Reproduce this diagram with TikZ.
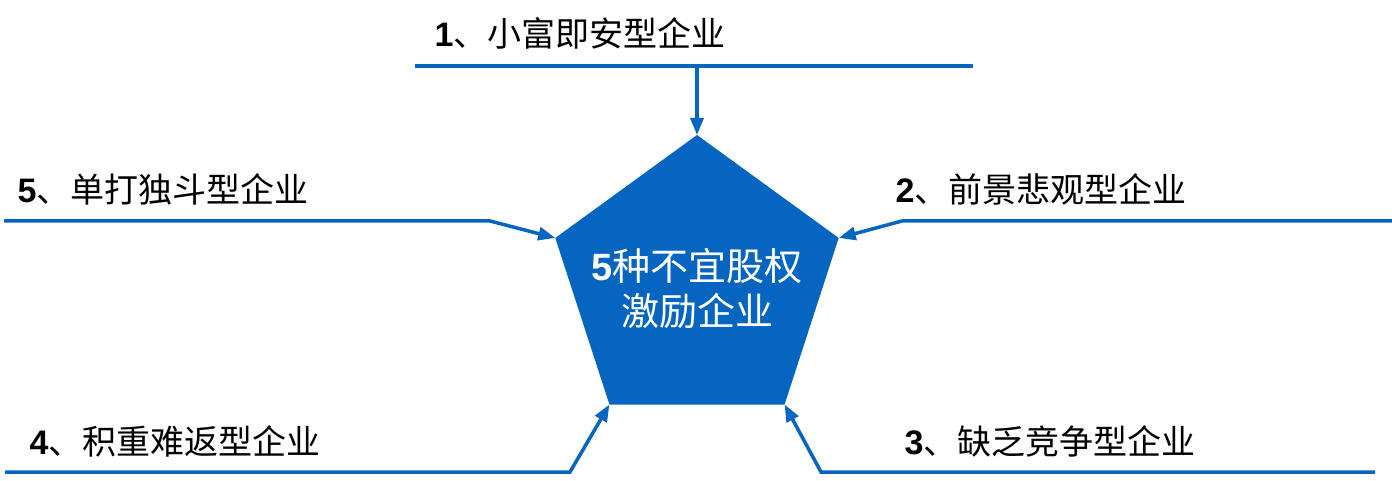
\documentclass[tikz,border=0pt]{standalone}
\usepackage{fontspec}
\setmainfont{Liberation Sans}
\newfontfamily\cjk{Noto Sans CJK SC}
\usetikzlibrary{shapes.geometric,arrows.meta}
\definecolor{pentablue}{RGB}{6,101,192}
\begin{document}
\begin{tikzpicture}[x=1pt,y=-1pt,
    rule/.style={line width=3.5pt,pentablue},
    feed/.style={rule,-{Triangle[length=17pt,width=13pt]}},
    kind/.style={font=\fontsize{34}{40}\selectfont,inner sep=0pt}]
    \useasboundingbox (0,0) rectangle (1392,481);
    % centre pentagon
    \node[regular polygon,regular polygon sides=5,minimum size=298pt,inner sep=0pt,outer sep=0pt,fill=pentablue] (penta) at (697,284) {};
    \node[white,align=center,font=\fontsize{38}{45}\selectfont] (core) at (697,289) {\textbf{5}{\cjk 种不宜股权}\\{\cjk 激励企业}};
    % labels
    \node[kind] (t1) at (580,33) {\textbf{1}{\cjk 、小富即安型企业}};
    \node[kind] (t2) at (1041,189) {\textbf{2}{\cjk 、前景悲观型企业}};
    \node[kind] (t3) at (1050,441) {\textbf{3}{\cjk 、缺乏竞争型企业}};
    \node[kind] (t4) at (175,441) {\textbf{4}{\cjk 、积重难返型企业}};
    \node[kind] (t5) at (163,189) {\textbf{5}{\cjk 、单打独斗型企业}};
    % line ends
    \coordinate (a1) at (415,66);  \coordinate (b1) at (973,66);
    \coordinate (m1) at (697,66);
    \coordinate (a2) at (1392,221); \coordinate (k2) at (902,221);
    \coordinate (a3) at (1375,472); \coordinate (k3) at (821,472);
    \coordinate (a4) at (5,472);    \coordinate (k4) at (570,472);
    \coordinate (a5) at (4,221);    \coordinate (k5) at (490,221);
    % connectors
    \draw[rule] (a1) -- (b1);
    \draw[feed] (m1) -- (penta.corner 1);
    \draw[feed] (a2) -- (k2) -- (penta.corner 5);
    \draw[feed] (a3) -- (k3) -- (penta.corner 4);
    \draw[feed] (a4) -- (k4) -- (penta.corner 3);
    \draw[feed] (a5) -- (k5) -- (penta.corner 2);
\end{tikzpicture}
\end{document}
